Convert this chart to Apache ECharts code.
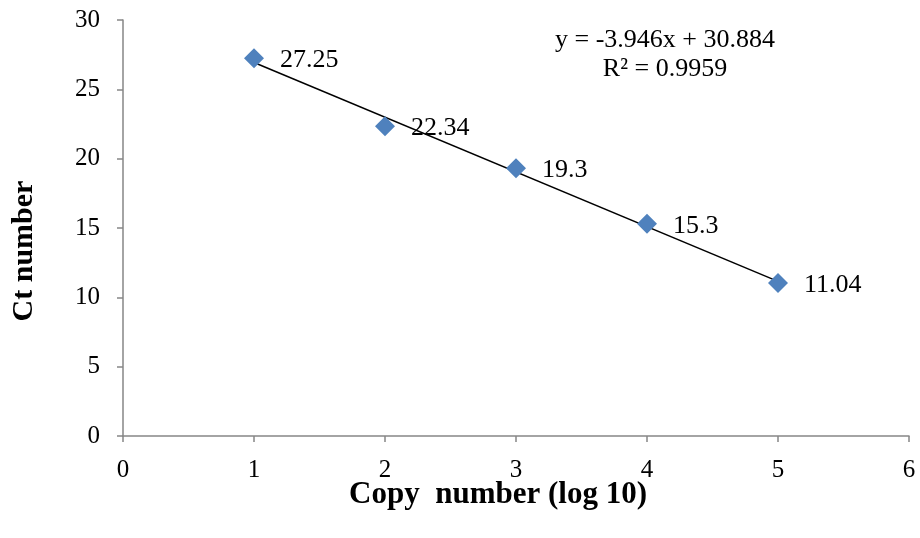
<!DOCTYPE html>
<html><head><meta charset="utf-8">
<script src="https://cdn.jsdelivr.net/npm/echarts@6/dist/echarts.min.js"></script>
<style>html,body{margin:0;padding:0;background:#fff}#c{width:920px;height:538px}</style>
</head><body><div id="c"></div>
<script>
var xValues = [1, 2, 3, 4, 5];
var ctValues = [27.25, 22.34, 19.3, 15.3, 11.04];
var trendX = [1, 5];
var trendY = [26.938, 11.154];
var equationText = 'y = -3.946x + 30.884';
var r2Text = 'R² = 0.9959';
var xTitle = 'Copy  number (log 10)';
var yTitle = 'Ct number';

var font = '"Liberation Serif","Times New Roman",serif';
var chart = echarts.init(document.getElementById('c'));
chart.setOption({
  animation: false,
  backgroundColor: '#fff',
  grid: {left: 123, right: 11, top: 20, bottom: 102},
  xAxis: {
    type: 'value', min: 0, max: 6, interval: 1,
    axisLine: {lineStyle: {color: '#868686', width: 1.5}},
    axisTick: {show: true, length: 6, lineStyle: {color: '#868686', width: 1.5}},
    axisLabel: {
      margin: 12,
      formatter: '{v|{value}}',
      rich: {v: {color: '#000', fontFamily: font, fontSize: 25, padding: [10, 0, 0, 0]}}
    },
    splitLine: {show: false}
  },
  yAxis: {
    type: 'value', min: 0, max: 30, interval: 5,
    axisLine: {show: true, lineStyle: {color: '#868686', width: 1.5}},
    axisTick: {show: true, length: 6, lineStyle: {color: '#868686', width: 1.5}},
    axisLabel: {color: '#000', fontFamily: font, fontSize: 25, margin: 23},
    splitLine: {show: false}
  },
  series: [
    {
      type: 'line',
      data: trendX.map(function (x, i) { return [x, trendY[i]]; }),
      symbol: 'none',
      lineStyle: {color: '#000', width: 1.5},
      z: 2
    },
    {
      type: 'scatter',
      data: xValues.map(function (x, i) { return [x, ctValues[i]]; }),
      symbol: 'diamond',
      symbolSize: [20, 20],
      itemStyle: {color: '#4F81BD', opacity: 1},
      label: {
        show: true, position: 'right', distance: 16, offset: [0, 2],
        color: '#000', fontFamily: font, fontSize: 26,
        formatter: function (p) { return String(p.value[1]); }
      },
      z: 3
    }
  ],
  graphic: [
    {type: 'text', x: 665, y: 40, style: {text: equationText, font: '26px ' + font, fill: '#000', textAlign: 'center', textVerticalAlign: 'middle'}},
    {type: 'text', x: 665, y: 69, style: {text: r2Text, font: '26px ' + font, fill: '#000', textAlign: 'center', textVerticalAlign: 'middle'}},
    {type: 'text', x: 498, y: 495, style: {text: xTitle, font: 'bold 31px ' + font, fill: '#000', textAlign: 'center', textVerticalAlign: 'middle'}},
    {type: 'text', x: 24, y: 251, rotation: Math.PI / 2,
      style: {text: yTitle, font: 'bold 30px ' + font, fill: '#000', textAlign: 'center', textVerticalAlign: 'middle'}}
  ]
});
</script></body></html>
